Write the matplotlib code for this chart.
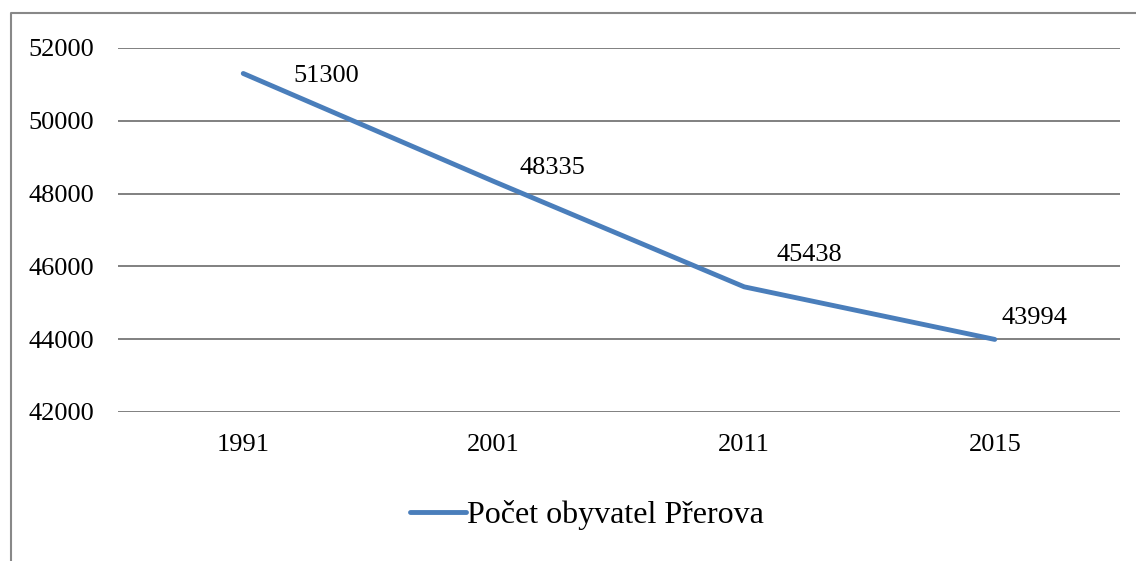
import matplotlib
matplotlib.use("Agg")
import matplotlib.pyplot as plt
from matplotlib.lines import Line2D

years = ["1991", "2001", "2011", "2015"]
population = [51300, 48335, 45438, 43994]
series_name = "Počet obyvatel Přerova"
y_ticks = [42000, 44000, 46000, 48000, 50000, 52000]
# label offsets in pixels (dx right, dy up) relative to each point
label_offsets_px = [(83, -3), (59, 13), (65, 32), (40, 21)]

W, H = 1136, 561
dpi = 100
fig = plt.figure(figsize=(W / dpi, H / dpi), dpi=dpi)
plt.rcParams['font.family'] = ['Liberation Serif', 'DejaVu Serif']

ax = fig.add_axes([118 / W, 1 - 412 / H, (1120 - 118) / W, (412 - 48) / H])
x = list(range(len(years)))
line_color = "#4A7EBB"
ax.plot(x, population, color=line_color, lw=3.5, solid_capstyle='round',
        solid_joinstyle='round', label=series_name, zorder=3)

ax.set_xlim(-0.5, len(years) - 0.5)
ax.set_ylim(42000, 52000)
ax.set_yticks(y_ticks)
ax.set_yticklabels([str(v) for v in y_ticks])
ax.set_xticks(x)
ax.set_xticklabels(years)
ax.tick_params(axis='both', length=0, labelsize=19, colors='black')
ax.tick_params(axis='y', pad=17)
ax.tick_params(axis='x', pad=16)
for s in ax.spines.values():
    s.set_visible(False)
ax.grid(axis='y', color='#808080', lw=1.4, zorder=1)
ax.set_axisbelow(True)

for xi, v, (dx, dy) in zip(x, population, label_offsets_px):
    ax.annotate(str(v), (xi, v), xytext=(dx * 0.72, dy * 0.72),
                textcoords='offset points', ha='center', va='center',
                fontsize=19, color='black')

# outer chart border (left and top visible)
fig.add_artist(Line2D([11 / W, 11 / W, 1.0], [0.0, 1 - 13 / H, 1 - 13 / H],
                      transform=fig.transFigure, color='#888888', lw=1.5))

fig.legend(handles=[Line2D([0], [0], color=line_color, lw=3.5, solid_capstyle='round')],
           labels=[series_name], loc='center', bbox_to_anchor=(587 / W, 1 - 515 / H),
           frameon=False, fontsize=23, handlelength=1.75, handletextpad=0.06,
           borderpad=0, borderaxespad=0)

fig.savefig("out.png", dpi=dpi)
